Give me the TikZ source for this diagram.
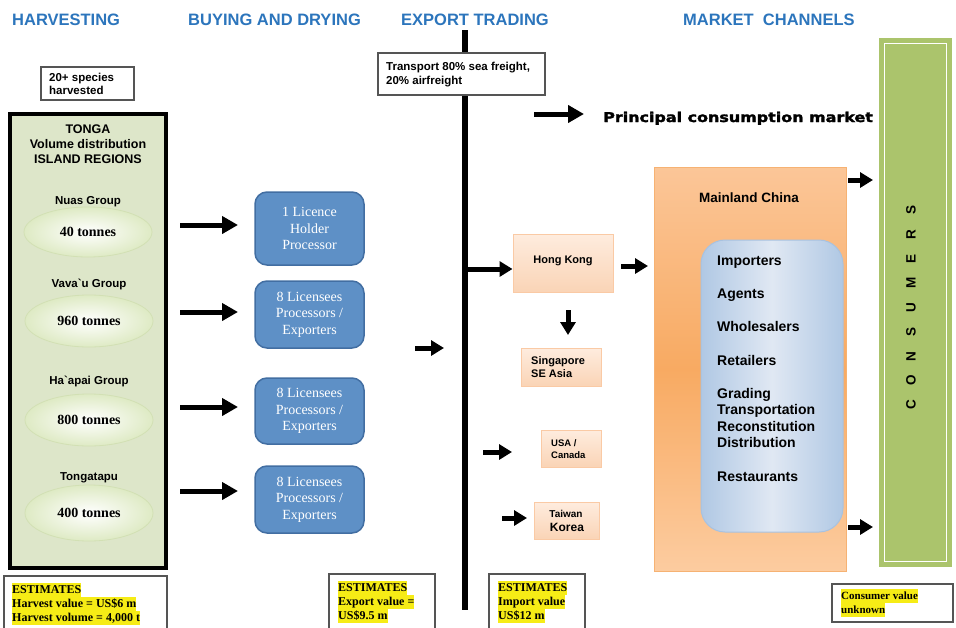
\documentclass[tikz,border=0pt]{standalone}
\usepackage{fontspec}
\setmainfont{Liberation Serif}
\setsansfont{Liberation Sans}
\newfontfamily\heavyfont{DejaVu Sans}[BoldFeatures={FakeBold=2}]
\usetikzlibrary{arrows.meta,shapes.geometric}
\definecolor{hdrblue}{RGB}{44,117,188}
\definecolor{tongagreen}{RGB}{221,230,201}
\definecolor{ellgreen}{RGB}{222,234,196}
\definecolor{ellline}{RGB}{210,224,180}
\definecolor{procblue}{RGB}{94,144,198}
\definecolor{procedge}{RGB}{66,110,162}
\definecolor{peachtop}{RGB}{254,236,222}
\definecolor{peachbot}{RGB}{250,212,182}
\definecolor{peachedge}{RGB}{250,202,165}
\definecolor{chinatop}{RGB}{251,198,152}
\definecolor{chinamid}{RGB}{248,170,98}
\definecolor{chinabot}{RGB}{252,204,160}
\definecolor{chinaedge}{RGB}{246,178,115}
\definecolor{innerdark}{RGB}{176,200,228}
\definecolor{innerlight}{RGB}{224,232,243}
\definecolor{inneredge}{RGB}{168,194,224}
\definecolor{consgreen}{RGB}{171,196,108}
\definecolor{boxgray}{RGB}{85,85,85}
\definecolor{hlyellow}{RGB}{246,236,22}
\newcommand{\hlt}[1]{{\setlength{\fboxsep}{0pt}\colorbox{hlyellow}{\strut #1}}}
\newcommand{\consl}[1]{\makebox[24.4pt]{#1}}
\tikzset{
  hdr/.style={font=\sffamily\bfseries\fontsize{16.5}{18}\selectfont, text=hdrblue, anchor=base west, inner sep=0pt},
  sftxt/.style={font=\sffamily\bfseries\fontsize{11.5}{14}\selectfont, inner sep=0pt},
  wbox/.style={draw=boxgray, line width=1.2pt, fill=white, inner sep=0pt},
  ell/.style={ellipse, draw=ellline, line width=0.8pt, inner color=white, outer color=ellgreen, font=\rmfamily\bfseries\fontsize{14}{16}\selectfont, inner sep=0pt},
  bluebox/.style={rectangle, rounded corners=12pt, fill=procblue, draw=procedge, line width=1.5pt, text=white, align=center, font=\rmfamily\fontsize{14}{16.5}\selectfont, inner sep=0pt},
  peach/.style={rectangle, draw=peachedge, line width=1pt, top color=peachtop, bottom color=peachbot, inner sep=0pt},
  bigarrow/.style={line width=5pt, -{Triangle[length=16pt,width=17pt]}},
  midarrow/.style={line width=5pt, -{Triangle[length=13pt,width=15pt]}},
  item/.style={font=\sffamily\bfseries\fontsize{14}{16}\selectfont, anchor=base west, inner sep=0pt},
  est/.style={font=\rmfamily\bfseries\fontsize{12}{14}\selectfont, anchor=north west, align=left, inner sep=0pt},
}
\begin{document}
\begin{tikzpicture}[x=1pt,y=-1pt]
\useasboundingbox (0,0) rectangle (956,627);
\clip (0,0) rectangle (956,627);
% headers
\node[hdr] (h1) at (12,25) {HARVESTING};
\node[hdr] (h2) at (188,25) {BUYING AND DRYING};
\node[hdr] (h3) at (401,25) {EXPORT TRADING};
\node[hdr] (h4) at (683,25) {MARKET\ \ CHANNELS};
% vertical trading line
\coordinate (ltop) at (465,30);
\coordinate (lbot) at (465,610);
\draw[line width=6pt] (ltop) -- (lbot);
% transport box
\node[wbox, minimum width=167pt, minimum height=42pt] (trbox) at (461.5,74) {};
\node[sftxt, anchor=base west, align=left] (trtxt) at (386,84) {Transport 80\% sea freight,\\20\% airfreight};
% species box
\node[wbox, minimum width=93pt, minimum height=33pt] (spbox) at (87.5,83.5) {};
\node[sftxt, anchor=base west, align=left, font=\sffamily\bfseries\fontsize{11.5}{13.5}\selectfont] (sptxt) at (49,94.5) {20+ species\\harvested};
% Tonga
\node[draw, line width=4pt, fill=tongagreen, minimum width=156pt, minimum height=454pt, inner sep=0pt] (tonga) at (88,341) {};
\node[sftxt, align=center, font=\sffamily\bfseries\fontsize{12.5}{15}\selectfont] (tongat) at (88,144) {TONGA\\Volume distribution\\ISLAND REGIONS};
\node[sftxt, anchor=base] (g1) at (88,204) {Nuas Group};
\node[ell, minimum width=128pt, minimum height=50pt] (e1) at (88,232) {40 tonnes};
\node[sftxt, anchor=base] (g2) at (89,287) {Vava\textasciigrave u Group};
\node[ell, minimum width=128pt, minimum height=52pt] (e2) at (89,321) {960 tonnes};
\node[sftxt, anchor=base] (g3) at (89,384) {Ha\textasciigrave apai Group};
\node[ell, minimum width=128pt, minimum height=52pt] (e3) at (89,420) {800 tonnes};
\node[sftxt, anchor=base] (g4) at (89,480) {Tongatapu};
\node[ell, minimum width=128pt, minimum height=56pt] (e4) at (89,513) {400 tonnes};
% processors
\node[bluebox, minimum width=109pt, minimum height=73pt] (b1) at (309.5,228.5) {1 Licence\\Holder\\Processor};
\node[bluebox, minimum width=109pt, minimum height=67pt] (b2) at (309.5,314.5) {8 Licensees\\Processors /\\Exporters};
\node[bluebox, minimum width=109pt, minimum height=66pt] (b3) at (309.5,411) {8 Licensees\\Processors /\\Exporters};
\node[bluebox, minimum width=109pt, minimum height=67pt] (b4) at (309.5,499.5) {8 Licensees\\Processors /\\Exporters};
\coordinate (a1s) at (180,225); \coordinate (a1e) at (238,225);
\coordinate (a2s) at (180,312); \coordinate (a2e) at (238,312);
\coordinate (a3s) at (180,407); \coordinate (a3e) at (238,407);
\coordinate (a4s) at (180,491); \coordinate (a4e) at (238,491);
\draw[bigarrow] (a1s) -- (a1e);
\draw[bigarrow] (a2s) -- (a2e);
\draw[bigarrow] (a3s) -- (a3e);
\draw[bigarrow] (a4s) -- (a4e);
\coordinate (a5s) at (415,348); \coordinate (a5e) at (444,348);
\draw[midarrow] (a5s) -- (a5e);
% export destinations
\node[peach, minimum width=100pt, minimum height=58pt] (hk) at (563,263) {};
\node[sftxt, anchor=base, font=\sffamily\bfseries\fontsize{11}{13}\selectfont] (hkt) at (563,263) {Hong Kong};
\node[peach, minimum width=80pt, minimum height=38pt] (sg) at (561,367) {};
\node[sftxt, anchor=base west, align=left, font=\sffamily\bfseries\fontsize{11}{13}\selectfont] (sgt) at (531,377) {Singapore\\SE Asia};
\node[peach, minimum width=60pt, minimum height=37pt] (us) at (571,448.5) {};
\node[sftxt, anchor=base west, align=left, font=\sffamily\bfseries\fontsize{9.5}{12.5}\selectfont] (ust) at (551,458.5) {USA /\\Canada};
\node[peach, minimum width=65pt, minimum height=37pt] (tw) at (566.5,520.5) {};
\node[sftxt, anchor=base, font=\sffamily\bfseries\fontsize{10}{12}\selectfont] (twt1) at (566,517.5) {Taiwan};
\node[sftxt, anchor=base, font=\sffamily\bfseries\fontsize{12}{14}\selectfont] (twt2) at (567,531.5) {Korea};
\coordinate (hks) at (465,269);
\draw[midarrow] (hks) -- (hk.west |- hks);
\coordinate (hkr1) at (621,266); \coordinate (hkr2) at (648,266);
\draw[midarrow] (hkr1) -- (hkr2);
\coordinate (hkd1) at (568,310); \coordinate (hkd2) at (568,335);
\draw[midarrow] (hkd1) -- (hkd2);
\coordinate (usa1) at (483,452); \coordinate (usa2) at (512,452);
\draw[midarrow] (usa1) -- (usa2);
\coordinate (twa1) at (502,518); \coordinate (twa2) at (527,518);
\draw[midarrow] (twa1) -- (twa2);
% principal market
\coordinate (pm1) at (534,114); \coordinate (pm2) at (584,114);
\draw[bigarrow] (pm1) -- (pm2);
\node[anchor=base west, inner sep=0pt, font=\heavyfont\bfseries\fontsize{13.5}{15}\selectfont, xscale=1.18] (pmt) at (603,122) {Principal consumption market};
% mainland china
\node[rectangle, draw=chinaedge, line width=1pt, top color=chinatop, bottom color=chinabot, middle color=chinamid, minimum width=192pt, minimum height=404pt, inner sep=0pt] (china) at (750,369) {};
\node[sftxt, anchor=base, font=\sffamily\bfseries\fontsize{13.5}{15}\selectfont] (chinat) at (749,202) {Mainland China};
\node[rectangle, rounded corners=24pt, draw=inneredge, line width=1pt, left color=innerdark, right color=innerdark, middle color=innerlight, minimum width=142pt, minimum height=292pt, inner sep=0pt] (inner) at (772,386) {};
\node[item] (i1) at (717,265) {Importers};
\node[item] (i2) at (717,298) {Agents};
\node[item] (i3) at (717,331) {Wholesalers};
\node[item] (i4) at (717,365) {Retailers};
\node[item] (i5) at (717,398) {Grading};
\node[item] (i6) at (717,414) {Transportation};
\node[item] (i7) at (717,431) {Reconstitution};
\node[item] (i8) at (717,447) {Distribution};
\node[item] (i9) at (717,481) {Restaurants};
% consumers
\node[rectangle, fill=consgreen, minimum width=73pt, minimum height=529pt, inner sep=0pt] (cons) at (915.5,302.5) {};
\node[rectangle, draw=white, line width=1.5pt, minimum width=62pt, minimum height=518pt, inner sep=0pt] (consin) at (915.5,302.5) {};
\node[rotate=90, inner sep=0pt, font=\sffamily\bfseries\fontsize{13.5}{15}\selectfont] (const) at (911,307.5) {\consl{C}\consl{O}\consl{N}\consl{S}\consl{U}\consl{M}\consl{E}\consl{R}\consl{S}};
\coordinate (c1s) at (848,180); \coordinate (c1e) at (873,180);
\coordinate (c2s) at (848,527); \coordinate (c2e) at (873,527);
\draw[midarrow] (c1s) -- (c1e);
\draw[midarrow] (c2s) -- (c2e);
% estimates
\draw[draw=boxgray, line width=1.2pt] (4,576) rectangle (167,640);
\node[est] (es1) at (12,583) {\hlt{ESTIMATES}\\\hlt{Harvest value = US\$6 m}\\\hlt{Harvest volume = 4,000 t}};
\draw[draw=boxgray, line width=1.2pt] (329,574) rectangle (435,640);
\node[est] (es2) at (338,581) {\hlt{ESTIMATES}\\\hlt{Export value =}\\\hlt{US\$9.5 m}};
\draw[draw=boxgray, line width=1.2pt] (489,574) rectangle (585,640);
\node[est] (es3) at (498,581) {\hlt{ESTIMATES}\\\hlt{Import value}\\\hlt{US\$12 m}};
\node[wbox, minimum width=121pt, minimum height=38pt] (es4box) at (892.5,603) {};
\node[est, font=\rmfamily\bfseries\fontsize{11}{14}\selectfont] (es4) at (841,589) {\hlt{Consumer value}\\\hlt{unknown}};
\end{tikzpicture}
\end{document}
